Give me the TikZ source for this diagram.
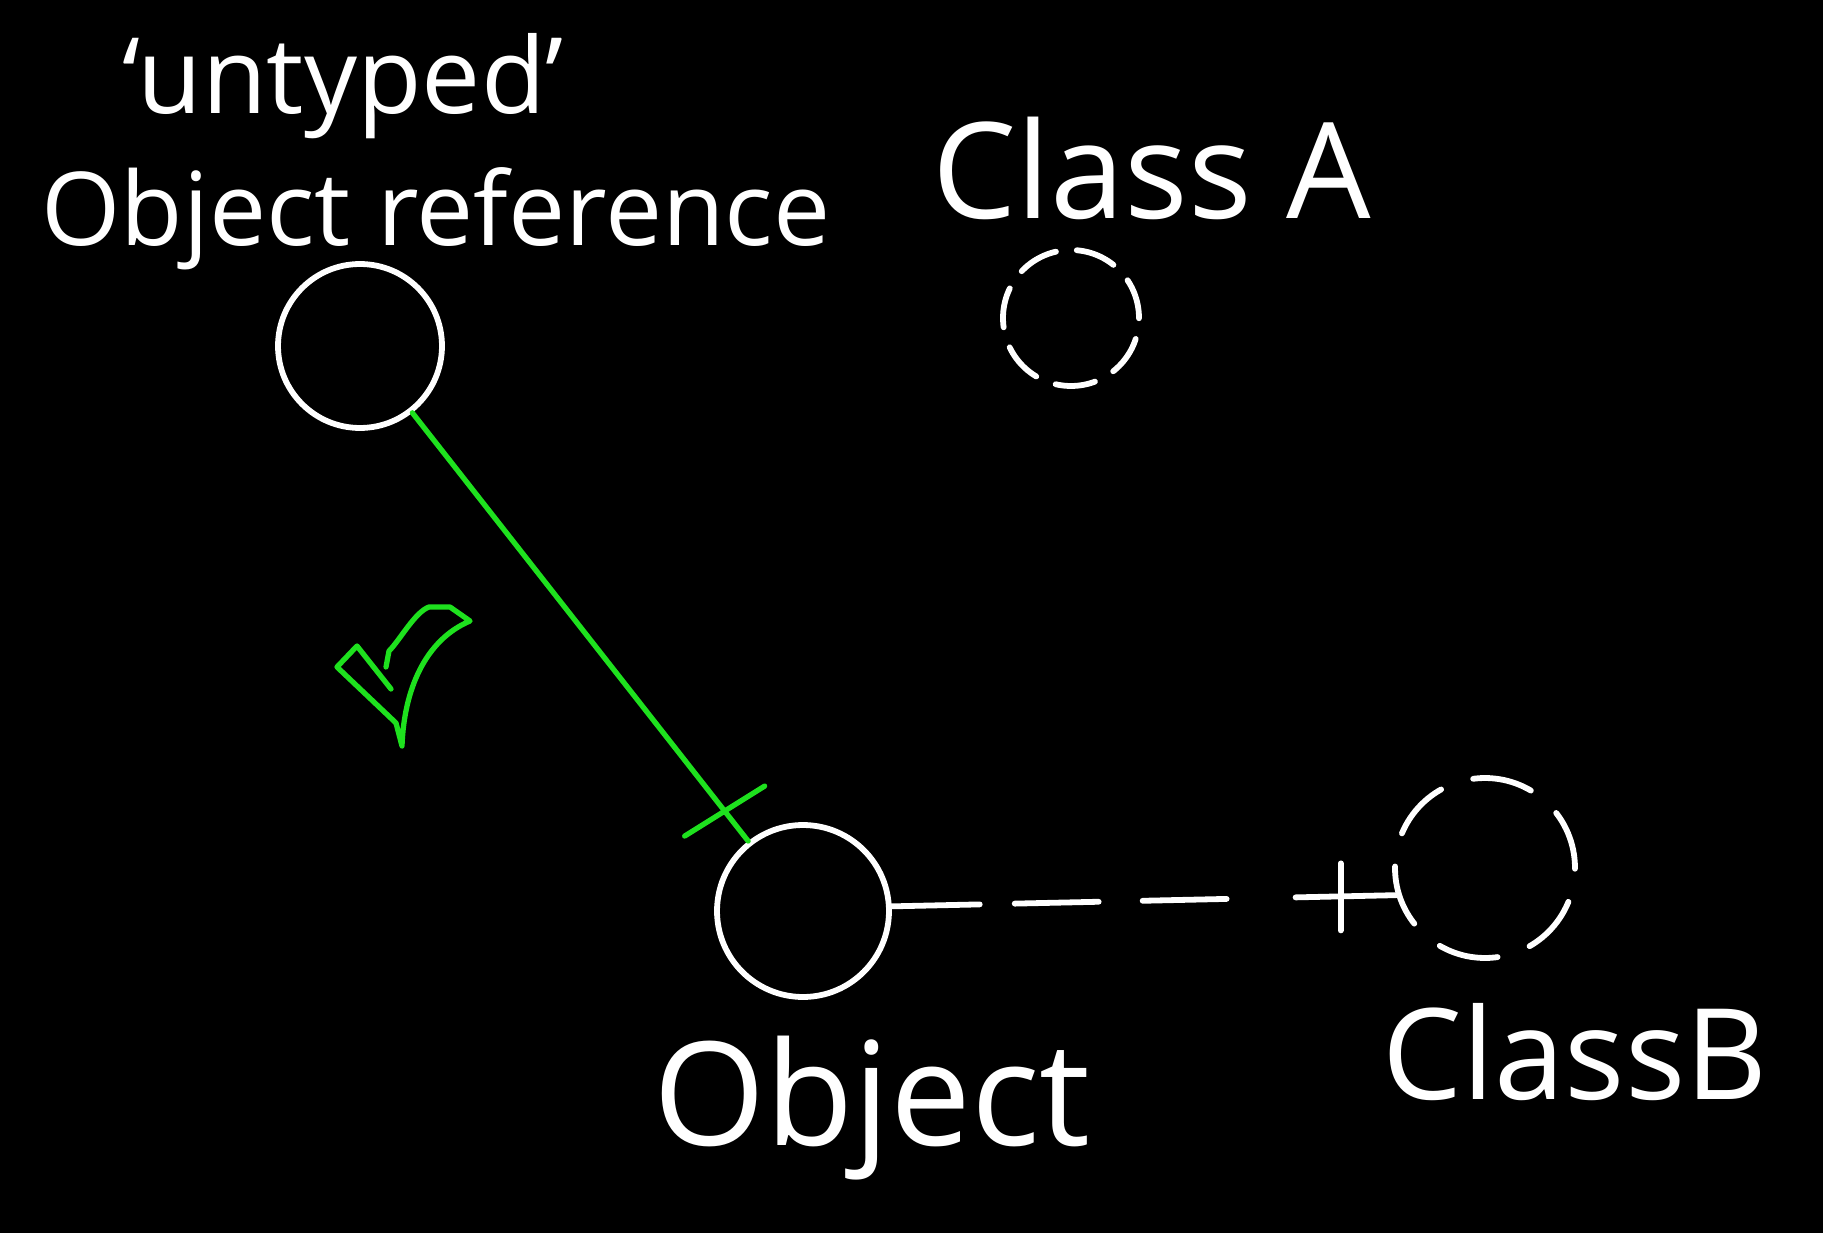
\documentclass[tikz,border=0pt]{standalone}
\usepackage{fontspec}
\setmainfont{Open Sans}
\usetikzlibrary{arrows}
\definecolor{tickgreen}{RGB}{30,225,30}

\begin{document}
\begin{tikzpicture}[x=0.02cm,y=-0.02cm,line cap=round,line join=round]
\tikzstyle{lbl} = [text=white,anchor=base,inner sep=0pt]
\tikzstyle{obj} = [circle,draw=white,line width=3.3pt,inner sep=0pt]
\tikzstyle{cls} = [circle,draw=white,line width=3.3pt,inner sep=0pt]
\fill[black] (0,0) rectangle (1823,1233);
\useasboundingbox (0,0) rectangle (1823,1233);
\node[lbl,font=\fontsize{60}{64}\selectfont] (untyped) at (343,114) {‘untyped’};
\node[lbl,font=\fontsize{58}{64}\selectfont] (reflbl) at (436,246) {Object reference};
\node[lbl,font=\fontsize{76}{80}\selectfont] (clsAlbl) at (1152,219) {Class A};
\node[lbl,font=\fontsize{82}{90}\selectfont] (objlbl) at (872,1145) {Object};
\node[lbl,font=\fontsize{72}{76}\selectfont] (clsBlbl) at (1575,1099) {ClassB};
\node[obj,minimum size=3.28cm] (ref) at (360,346) {};
\node[obj,minimum size=3.44cm] (obj) at (803,911) {};
\node[cls,minimum size=2.72cm,dash pattern=on 0.8cm off 0.42cm] (clsA) at (1071,318) {};
\node[cls,minimum size=3.6cm,dash pattern=on 1.2cm off 0.68cm,rotate=180] (clsB) at (1485,868) {};
\draw[tickgreen,line width=3pt] (ref) -- (obj) coordinate[pos=0.93] (gbar);
\draw[tickgreen,line width=3pt] ([shift={(-40,25)}]gbar) -- ([shift={(40,-25)}]gbar);
\draw[white,line width=3.3pt,dash pattern=on 1.76cm off 0.7cm on 1.68cm off 0.88cm on 1.68cm off 1.38cm on 3cm] (obj.3) -- (clsB.17) coordinate[pos=0.89] (wbar);
\draw[white,line width=3.3pt] ([shift={(0,-33)}]wbar) -- ([shift={(0,34)}]wbar);
% check mark
\draw[tickgreen,line width=3pt] (391,689) -- (357,646) -- (337,667) -- (396,723) -- (402,746) .. controls (404,690) and (425,640) .. (470,621) -- (450,607) -- (429,607) .. controls (415,612) and (400,640) .. (389,651) -- (386,667);
\end{tikzpicture}
\end{document}
